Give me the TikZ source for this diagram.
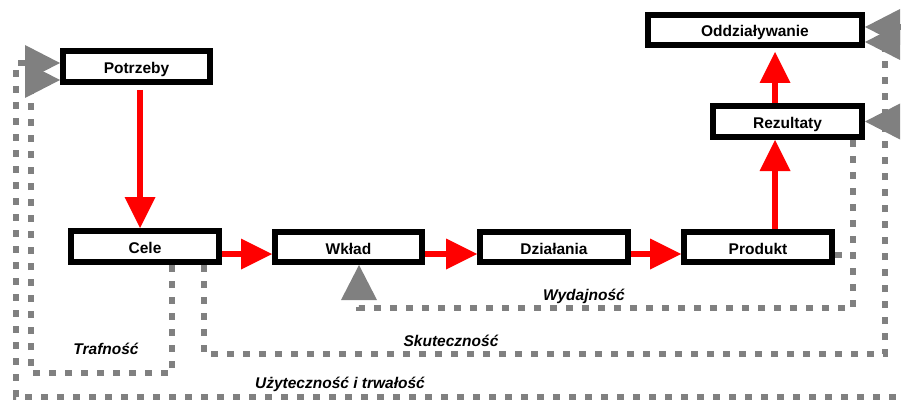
\documentclass[tikz,border=0pt]{standalone}
\usepackage{fontspec}
\setmainfont{Liberation Sans}
\usetikzlibrary{arrows.meta,calc}
\definecolor{dgray}{RGB}{128,128,128}
\begin{document}
\begin{tikzpicture}[x=1pt,y=-1pt,
  box/.style={draw=black, line width=6pt, fill=white, inner sep=0pt, text height=14pt, text depth=0pt, font=\fontsize{15.5}{18}\selectfont\bfseries},
  lab/.style={inner sep=0pt, font=\fontsize{15.5}{18}\selectfont\bfseries\itshape},
  redarr/.style={draw=red, line width=6pt, -{Triangle[length=31pt,width=31pt,line width=0pt]}},
  dotline/.style={draw=dgray, line width=6.5pt, dash pattern=on 7pt off 9pt},
  garr/.style={dotline, -{Triangle[length=35pt,width=36pt,line width=0pt]}},
  gdbl/.style={dotline, {Triangle[length=35pt,width=36pt,line width=0pt]}-{Triangle[length=35pt,width=36pt,line width=0pt]}}
]
\useasboundingbox (0,0) rectangle (901,401);

% boxes
\node[box, minimum width=147pt, minimum height=31pt] (potrzeby) at (136.5,66.5) {Potrzeby};
\node[box, minimum width=214pt, minimum height=30pt] (oddz) at (755,30) {Oddziaływanie};
\node[box, minimum width=149pt, minimum height=31pt] (rez) at (787.5,121.5) {Rezultaty};
\node[box, minimum width=148pt, minimum height=31pt] (cele) at (145,246.5) {Cele};
\node[box, minimum width=147pt, minimum height=30pt] (wklad) at (348.5,247) {Wkład};
\node[box, minimum width=148pt, minimum height=30pt] (dzial) at (554,247) {Działania};
\node[box, minimum width=148pt, minimum height=30pt] (prod) at (758,247) {Produkt};

% red flow
\draw[redarr] ($(potrzeby.south)+(3.5,5)$) -- ($(cele.north)+(-5,0)$);
\draw[redarr] ($(cele.east)+(0,7.5)$) -- ($(wklad.west)+(0,7)$);
\draw[redarr] ($(wklad.east)+(0,7)$) -- ($(dzial.west)+(0,7)$);
\draw[redarr] ($(dzial.east)+(0,7)$) -- ($(prod.west)+(0,7)$);
\draw[redarr] ($(prod.north)+(17,0)$) -- ($(rez.south)+(-12.5,0)$);
\draw[redarr] ($(rez.north)+(-12.5,0)$) -- ($(oddz.south)+(20,4)$);

% Wydajnosc
\draw[garr] ($(rez.south)+(65.5,0)$) |- ($(wklad.south)+(10.5,43)$) -- ($(wklad.south)+(10.5,0)$);
\draw[dotline] ($(prod.east)+(0,8)$) -- ($(rez.south)+(65.5,115)$);

% Skutecznosc
\coordinate (skR) at (885,354);
\draw[garr] ($(cele.south)+(59,0)$) |- (skR) |- ($(oddz.east)+(0,12)$);
\coordinate (rzin) at (910,121.5);
\draw[garr] (rzin) -- (rez.east);

% Uzytecznosc i trwalosc
\coordinate (uL) at (16,397);
\coordinate (uR) at (910,397);
\draw[gdbl] ($(potrzeby.west)+(0,-3.5)$) -| (uL) -- (uR) |- ($(oddz.east)+(0,-3)$);

% Trafnosc
\coordinate (tL) at (31,373);
\draw[garr] ($(cele.south)+(27,0)$) |- (tL) |- ($(potrzeby.west)+(0,13.5)$);

% labels
\node[lab, anchor=base] (l1) at (584,300) {Wydajność};
\node[lab, anchor=base] (l2) at (451,346) {Skuteczność};
\node[lab, anchor=base] (l3) at (106,354) {Trafność};
\node[lab, anchor=base] (l4) at (340,388) {Użyteczność i trwałość};
\end{tikzpicture}
\end{document}
